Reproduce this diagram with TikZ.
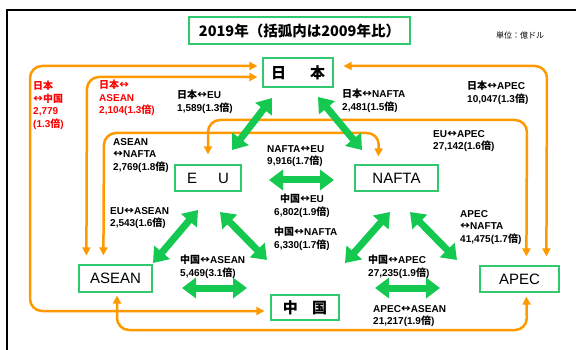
\documentclass[tikz,border=0pt]{standalone}
\usepackage{fontspec}
\setmainfont{Liberation Sans}
\newfontfamily\jp{Noto Sans CJK JP}
\usetikzlibrary{arrows.meta,calc}
\definecolor{org}{RGB}{255,153,0}
\definecolor{grn}{RGB}{20,200,80}
\definecolor{bgrn}{RGB}{50,200,110}
\definecolor{redt}{RGB}{255,0,0}
\newcommand\J[1]{{\jp\bfseries #1}}
\newcommand\LR{{\jp ↔}}
\tikzset{
 box/.style={draw=bgrn, line width=1.2pt, fill=white, inner sep=0pt},
 boxtxt/.style={font=\fontsize{15}{18}\selectfont},
 lbl/.style={anchor=north west, inner sep=0pt, align=left, font=\bfseries\fontsize{10}{12.6}\selectfont},
 redlbl/.style={lbl, text=redt},
 oarr/.style={draw=org, line width=2.5pt, rounded corners=12pt, {Triangle[width=8pt,length=8pt]}-{Triangle[width=8pt,length=8pt]}},
 garr/.style={draw=grn, line width=7pt, {Triangle[width=20pt,length=14pt]}-{Triangle[width=20pt,length=14pt]}},
}
\begin{document}
\begin{tikzpicture}[x=1pt,y=-1pt]
\useasboundingbox (0,0) rectangle (576,350);
% frame
\draw[line width=1.5pt] (7,350) -- (7,10) -- (576,10);
% title and unit
\node[box, minimum width=221pt, minimum height=27pt] (title) at (299.5,30.5) {\J{\fontsize{14.5}{16}\selectfont 2019年（括弧内は2009年比）}};
\node[anchor=west, inner sep=0pt] (unit) at (496,35) {\jp\fontsize{8}{9}\selectfont 単位：億ドル};
% boxes
\node[box, minimum width=70pt, minimum height=29pt] (jp) at (298,72.5) {\J{\fontsize{15}{18}\selectfont 日\hspace{1.6em}本}};
\node[box, boxtxt, minimum width=66pt, minimum height=26pt] (eu) at (208,178) {E\hspace{21pt}U};
\node[box, boxtxt, minimum width=83pt, minimum height=26pt] (nafta) at (396.5,178) {NAFTA};
\node[box, boxtxt, minimum width=73pt, minimum height=27pt] (asean) at (115.5,278.5) {ASEAN};
\node[box, minimum width=68pt, minimum height=25pt] (cn) at (305,307.5) {\J{\fontsize{15}{18}\selectfont 中\hspace{0.95em}国}};
\node[box, boxtxt, minimum width=79pt, minimum height=26pt] (apec) at (519.5,279) {APEC};
% orange connectors
\draw[oarr] ($(jp.west)+(-5,-6.5)$) -- (30,66) -- (30,311) -- ($(cn.west)+(-6,3.5)$);
\draw[oarr] ($(jp.west)+(-5,4.5)$) -- (87,77) -- ($(asean.north west)+(8,-9)$);
\draw[oarr] ($(asean.north west)+(25,-9)$) -- (104,133) -- (379,133) -- ($(nafta.north west)+(24,-8)$);
\draw[oarr] ($(eu.north)+(0,-10)$) -- (208,120) -- (527,120) -- ($(apec.north west)+(47,-9)$);
\draw[oarr] ($(jp.east)+(10,-6.5)$) -- (547,66) -- ($(apec.north west)+(67,-9)$);
\draw[oarr] ($(asean.south)+(1.5,3)$) -- (117,330) -- (527,330) -- ($(apec.south west)+(47,4)$);
% green arrows
\coordinate (g1a) at (272,98);  \coordinate (g1b) at (232,150);
\coordinate (g2a) at (318,97);  \coordinate (g2b) at (362,150);
\coordinate (g3a) at (269,180); \coordinate (g3b) at (334,180);
\coordinate (g4a) at (198,210); \coordinate (g4b) at (153,263);
\coordinate (g5a) at (220,212); \coordinate (g5b) at (267,260);
\coordinate (g6a) at (390,212); \coordinate (g6b) at (345,263);
\coordinate (g7a) at (410,212); \coordinate (g7b) at (457,260);
\coordinate (g8a) at (182,288); \coordinate (g8b) at (247,288);
\coordinate (g9a) at (375,288); \coordinate (g9b) at (440,288);
\foreach \i in {1,...,9} {\draw[garr] (g\i a) -- (g\i b);}
% labels
\node[redlbl] (l1) at (33,81) {\J{日本}\\\LR\J{中国}\\2,779\\(1.3\J{倍})};
\node[redlbl] (l2) at (99,80) {\J{日本}\LR\\ASEAN\\2,104(1.3\J{倍})};
\node[lbl] (l3) at (177,90) {\J{日本}\LR EU\\1,589(1.3\J{倍})};
\node[lbl] (l4) at (342,89) {\J{日本}\LR NAFTA\\2,481(1.5\J{倍})};
\node[lbl] (l5) at (467,81) {\J{日本}\LR APEC\\10,047(1.3\J{倍})};
\node[lbl] (l6) at (113,138) {ASEAN\\\LR NAFTA\\2,769(1.8\J{倍})};
\node[lbl] (l7) at (267,145) {NAFTA\LR EU\\9,916(1.7\J{倍})};
\node[lbl, anchor=north, align=center] (l8) at (302,194) {\J{中国}\LR EU\\6,802(1.9\J{倍})};
\node[lbl] (l9) at (274,227) {\J{中国}\LR NAFTA\\6,330(1.7\J{倍})};
\node[lbl] (l10) at (110,207) {EU\LR ASEAN\\2,543(1.6\J{倍})};
\node[lbl] (l11) at (433,130) {EU\LR APEC\\27,142(1.6\J{倍})};
\node[lbl] (l12) at (460,210) {APEC\\\LR NAFTA\\41,475(1.7\J{倍})};
\node[lbl] (l13) at (180,255) {\J{中国}\LR ASEAN\\5,469(3.1\J{倍})};
\node[lbl] (l14) at (368,255) {\J{中国}\LR APEC\\27,235(1.9\J{倍})};
\node[lbl] (l15) at (373,305) {APEC\LR ASEAN\\21,217(1.9\J{倍})};
\end{tikzpicture}
\end{document}
